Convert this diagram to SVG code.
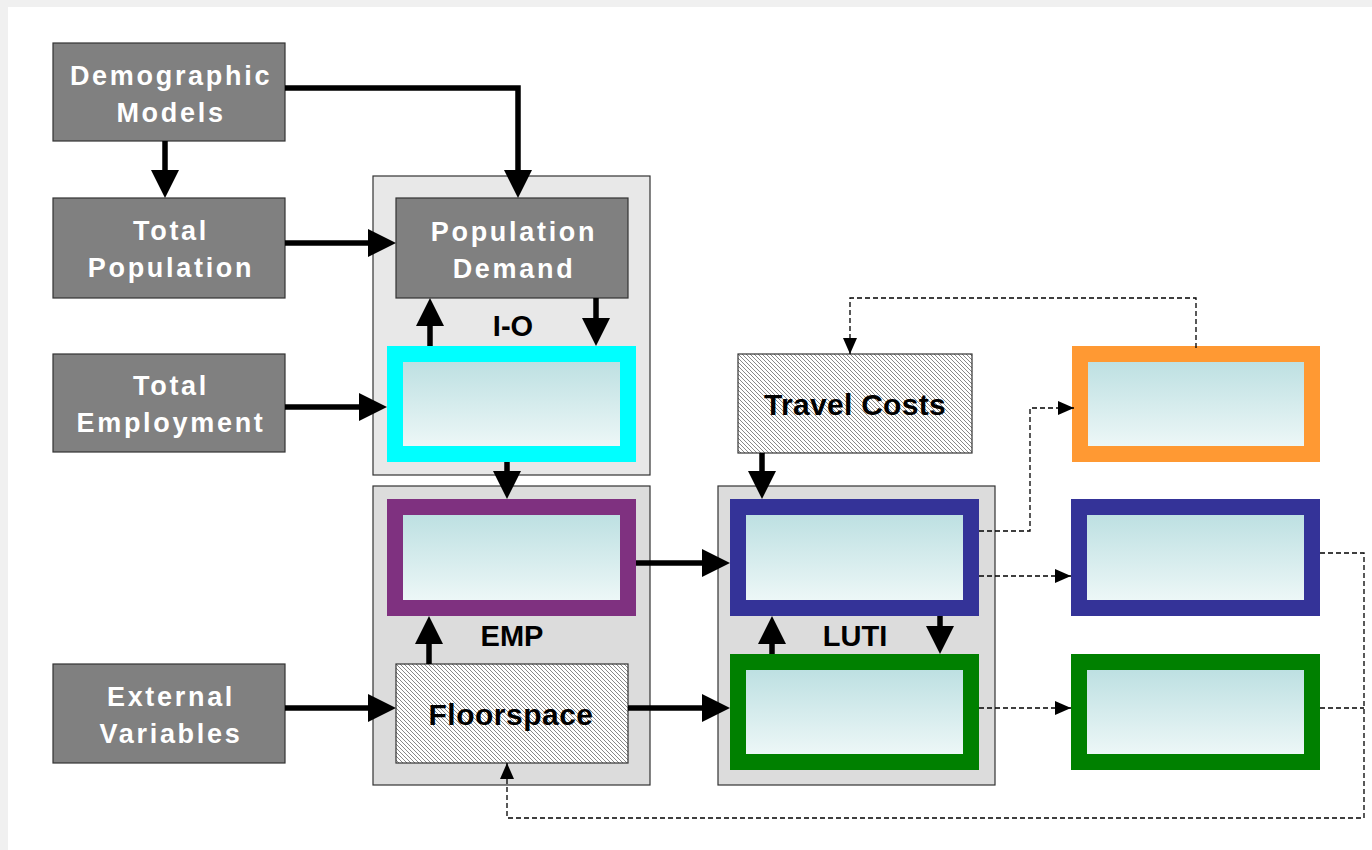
<svg xmlns="http://www.w3.org/2000/svg" width="1372" height="850" viewBox="0 0 1372 850">
  <style>
    .gbox { fill: #808080; stroke: #333333; stroke-width: 1.2; }
    .wtxt { font-family: "Liberation Sans", Arial, sans-serif; font-weight: bold; font-size: 27px; fill: #ffffff; text-anchor: middle; letter-spacing: 2.7px; }
    .btxt { font-family: "Liberation Sans", Arial, sans-serif; font-weight: bold; font-size: 30px; fill: #000000; text-anchor: middle; }
    .lbl { font-family: "Liberation Sans", Arial, sans-serif; font-weight: bold; font-size: 29px; fill: #000000; text-anchor: middle; }
    .cont1 { fill: #e8e8e8; stroke: #333333; stroke-width: 1.2; }
    .cont2 { fill: #dcdcdc; stroke: #333333; stroke-width: 1.2; }
    .hatch { fill: url(#hatch); stroke: #333333; stroke-width: 1.2; }
    .cbox { fill: url(#grad); stroke-width: 16; }
    .solid { fill: none; stroke: #000000; stroke-width: 5.5; marker-end: url(#ah); }
    .dash { fill: none; stroke: #000000; stroke-width: 1.3; stroke-dasharray: 5 3; }
    .dasha { marker-end: url(#dh); }
  </style>
  <defs>
    <linearGradient id="grad" x1="0" y1="0" x2="0" y2="1">
      <stop offset="0" stop-color="#b9dee0"/>
      <stop offset="1" stop-color="#f1f9f9"/>
    </linearGradient>
    <pattern id="hatch" patternUnits="userSpaceOnUse" width="4" height="4">
      <rect width="4" height="4" fill="#ffffff"/>
      <path d="M-1,3 L1,5 M0,0 L4,4 M3,-1 L5,1" stroke="#7a7a7a" stroke-width="0.9"/>
    </pattern>
    <marker id="ah" markerUnits="userSpaceOnUse" viewBox="0 0 28 28" markerWidth="28" markerHeight="28" refX="8" refY="14" orient="auto">
      <path d="M0,0 L28,14 L0,28 z" fill="#000000"/>
    </marker>
    <marker id="dh" markerUnits="userSpaceOnUse" viewBox="0 0 16 14" markerWidth="16" markerHeight="14" refX="16" refY="7" orient="auto">
      <path d="M0,0 L16,7 L0,14 z" fill="#000000"/>
    </marker>
  </defs>

  <rect x="0" y="0" width="1372" height="850" fill="#f0f0f0"/>
  <rect x="8" y="7" width="1364" height="843" fill="#ffffff"/>

  <g id="container-io">
    <rect class="cont1" x="373" y="176" width="277" height="299"/>
    <text class="lbl" x="513" y="336">I-O</text>
  </g>
  <g id="container-emp">
    <rect class="cont2" x="373" y="486" width="277" height="299"/>
    <text class="lbl" x="512" y="646">EMP</text>
  </g>
  <g id="container-luti">
    <rect class="cont2" x="718" y="486" width="277" height="299"/>
    <text class="lbl" x="855" y="646">LUTI</text>
  </g>

  <g id="demographic-models">
    <rect class="gbox" x="53" y="43" width="232" height="98"/>
    <text class="wtxt" x="171" y="85">Demographic</text>
    <text class="wtxt" x="171" y="122">Models</text>
  </g>
  <g id="total-population">
    <rect class="gbox" x="53" y="198" width="232" height="100"/>
    <text class="wtxt" x="171" y="240">Total</text>
    <text class="wtxt" x="171" y="277">Population</text>
  </g>
  <g id="total-employment">
    <rect class="gbox" x="53" y="354" width="232" height="98"/>
    <text class="wtxt" x="171" y="395">Total</text>
    <text class="wtxt" x="171" y="432">Employment</text>
  </g>
  <g id="external-variables">
    <rect class="gbox" x="53" y="664" width="232" height="99"/>
    <text class="wtxt" x="171" y="706">External</text>
    <text class="wtxt" x="171" y="743">Variables</text>
  </g>
  <g id="population-demand">
    <rect class="gbox" x="396" y="198" width="232" height="100"/>
    <text class="wtxt" x="514" y="241">Population</text>
    <text class="wtxt" x="514" y="278">Demand</text>
  </g>
  <g id="io-box">
    <rect class="cbox" x="395" y="354" width="233" height="100" stroke="#00ffff"/>
  </g>
  <g id="emp-box">
    <rect class="cbox" x="395" y="507" width="233" height="101" stroke="#7f3180"/>
  </g>
  <g id="floorspace">
    <rect class="hatch" x="396" y="664" width="232" height="99"/>
    <text class="btxt" x="511" y="725" letter-spacing="0.5">Floorspace</text>
  </g>
  <g id="travel-costs">
    <rect class="hatch" x="738" y="354" width="234" height="99"/>
    <text class="btxt" x="855" y="415" letter-spacing="0.3">Travel Costs</text>
  </g>
  <g id="luti-blue">
    <rect class="cbox" x="738" y="507" width="233" height="101" stroke="#343398"/>
  </g>
  <g id="luti-green">
    <rect class="cbox" x="738" y="662" width="233" height="100" stroke="#008000"/>
  </g>
  <g id="out-orange">
    <rect class="cbox" x="1080" y="354" width="232" height="100" stroke="#ff9933" stroke-width="12"/>
  </g>
  <g id="out-blue">
    <rect class="cbox" x="1079" y="507" width="233" height="101" stroke="#343398"/>
  </g>
  <g id="out-green">
    <rect class="cbox" x="1079" y="662" width="233" height="100" stroke="#008000"/>
  </g>

  <g id="connectors">
    <path class="solid" d="M165,141 V178"/>
    <path class="solid" d="M285,88 H518 V178"/>
    <path class="solid" d="M285,243 H376"/>
    <path class="solid" d="M285,407 H367"/>
    <path class="solid" d="M430,346 V318"/>
    <path class="solid" d="M596,298 V326"/>
    <path class="solid" d="M507,462 V479"/>
    <path class="solid" d="M636,563 H710"/>
    <path class="solid" d="M429,664 V636"/>
    <path class="solid" d="M285,708 H376"/>
    <path class="solid" d="M628,708 H710"/>
    <path class="solid" d="M762,453 V479"/>
    <path class="solid" d="M772,654 V636"/>
    <path class="solid" d="M940,616 V634"/>

    <path class="dash dasha" d="M1196,348 V298 H850 V354"/>
    <path class="dash dasha" d="M979,531 H1030 V408 H1074"/>
    <path class="dash dasha" d="M979,576 H1071"/>
    <path class="dash dasha" d="M979,708 H1071"/>
    <path class="dash dasha" d="M1320,553 H1364 V818 H507 V763"/>
    <path class="dash" d="M1320,708 H1364"/>
  </g>
</svg>
